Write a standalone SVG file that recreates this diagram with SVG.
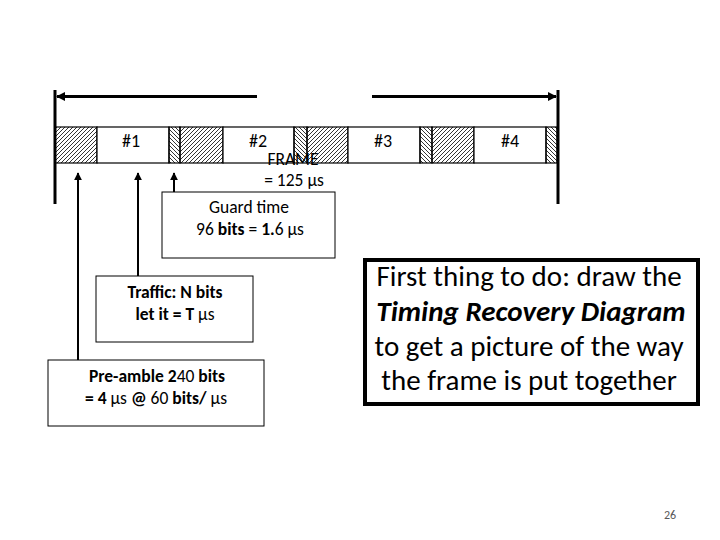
<svg xmlns="http://www.w3.org/2000/svg" width="720" height="540" viewBox="0 0 720 540">
<defs>
<pattern id="fwd" patternUnits="userSpaceOnUse" width="4" height="4">
<path d="M-1,1 L1,-1 M0,4 L4,0 M3,5 L5,3" stroke="#000" stroke-width="0.8"/>
</pattern>
<pattern id="back" patternUnits="userSpaceOnUse" width="4" height="4">
<path d="M-1,3 L1,5 M0,0 L4,4 M3,-1 L5,1" stroke="#000" stroke-width="0.8"/>
</pattern>
<marker id="ah" viewBox="0 0 10 10" refX="9" refY="5" markerWidth="4" markerHeight="4" orient="auto" markerUnits="strokeWidth">
<path d="M0,0 L10,5 L0,10 z" fill="#000"/>
</marker>
<marker id="ahs" viewBox="0 0 10 10" refX="9" refY="5" markerWidth="3" markerHeight="4" orient="auto" markerUnits="strokeWidth">
<path d="M0,0 L10,5 L0,10 z" fill="#000"/>
</marker>
</defs>
<style>
text{font-family:Carlito,Lato,"Open Sans","Liberation Sans",sans-serif;fill:#000}
.seg{stroke:#000;stroke-width:1.2}
.lbl{font-size:18px;text-anchor:middle}
.box{fill:#fff;stroke:#000;stroke-width:1}
.t{font-size:17.5px;text-anchor:middle}
.b{font-weight:bold}
.big{font-size:29px;text-anchor:middle}
</style>
<rect width="720" height="540" fill="#fff"/>

<g id="frame-bar">
<rect class="seg" x="55" y="127" width="42" height="36" fill="url(#fwd)"/>
<rect class="seg" x="97" y="127" width="72" height="36" fill="#fff"/>
<rect class="seg" x="169" y="127" width="11" height="36" fill="url(#back)"/>
<rect class="seg" x="180" y="127" width="43" height="36" fill="url(#fwd)"/>
<rect class="seg" x="223" y="127" width="71" height="36" fill="#fff"/>
<rect class="seg" x="294" y="127" width="13" height="36" fill="url(#back)"/>
<rect class="seg" x="307" y="127" width="41" height="36" fill="url(#fwd)"/>
<rect class="seg" x="348" y="127" width="72" height="36" fill="#fff"/>
<rect class="seg" x="420" y="127" width="12" height="36" fill="url(#back)"/>
<rect class="seg" x="432" y="127" width="42" height="36" fill="url(#fwd)"/>
<rect class="seg" x="474" y="127" width="72" height="36" fill="#fff"/>
<rect class="seg" x="546" y="127" width="11" height="36" fill="url(#back)"/>
<text class="lbl" x="131" y="147">#1</text>
<text class="lbl" x="258" y="147">#2</text>
<text class="lbl" x="383" y="147">#3</text>
<text class="lbl" x="510" y="147">#4</text>
</g>

<g id="frame-label">
<text class="t" x="293" y="165">FRAME</text>
<text class="t" x="294" y="186">= 125 μs</text>
</g>

<g id="guard">
<rect class="box" x="162" y="192" width="173" height="66"/>
<text class="t" x="249" y="213">Guard time</text>
<text class="t" x="250" y="235">96 <tspan class="b">bits</tspan> = <tspan class="b">1.</tspan>6 μs</text>
</g>

<g id="traffic">
<rect class="box" x="96" y="276" width="157" height="66"/>
<text class="t b" x="175" y="298">Traffic: N bits</text>
<text class="t b" x="175" y="320">let it = T <tspan font-weight="normal">μs</tspan></text>
</g>

<g id="preamble">
<rect class="box" x="48" y="360" width="216" height="66"/>
<text class="t" x="157" y="382"><tspan class="b">Pre-amble 2</tspan>40 <tspan class="b">bits</tspan></text>
<text class="t" x="156" y="404"><tspan class="b">= 4</tspan> μs <tspan class="b">@</tspan> 60 <tspan class="b">bits/</tspan> μs</text>
</g>

<g id="note">
<rect x="365" y="260" width="333" height="144" fill="#fff" stroke="#000" stroke-width="4"/>
<text class="big" x="529" y="286">First thing to do: draw the</text>
<text class="big" x="531" y="321" font-weight="bold" font-style="italic">Timing Recovery Diagram</text>
<text class="big" x="529" y="356">to get a picture of the way</text>
<text class="big" x="529" y="390">the frame is put together</text>
</g>

<g id="page-number">
<text x="670" y="519" font-size="12" fill="#595959" style="fill:#595959" text-anchor="middle">26</text>
</g>

<g id="connectors" stroke="#000" fill="none">
<line x1="55" y1="90" x2="55" y2="204" stroke-width="3"/>
<line x1="558" y1="90" x2="558" y2="204" stroke-width="3"/>
<line x1="257" y1="96.5" x2="57" y2="96.5" stroke-width="3" marker-end="url(#ahs)"/>
<line x1="372" y1="96.5" x2="556" y2="96.5" stroke-width="3" marker-end="url(#ahs)"/>
<line x1="78" y1="360" x2="78" y2="173" stroke-width="2" marker-end="url(#ah)"/>
<line x1="138" y1="276" x2="138" y2="173" stroke-width="2" marker-end="url(#ah)"/>
<line x1="174" y1="192" x2="174" y2="173" stroke-width="2" marker-end="url(#ah)"/>
</g>
</svg>
